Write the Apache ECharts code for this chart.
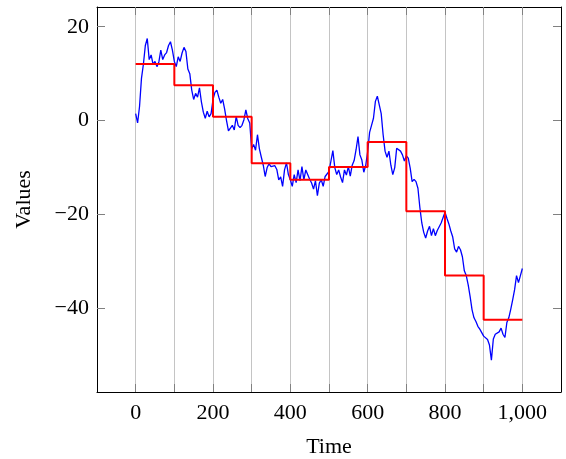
<!DOCTYPE html>
<html>
<head>
<meta charset="utf-8">
<title>Values over time</title>
<script src="https://cdn.jsdelivr.net/npm/echarts@6/dist/echarts.min.js"></script>
<style>
    html, body { margin: 0; padding: 0; background: #fff; }
    #myChart { width: 566px; height: 459px; }
</style>
</head>
<body>
<div id="myChart"></div>
<script>
// random walk, one reading every 5 steps (t = 0, 5, ..., 1000)
var sampleStep = 5;
var walkValues = [
    1.5, -0.5, 3, 9, 12, 16, 17.5, 13, 14, 12,
    12.6, 11.5, 12.5, 15, 13, 14, 14.5, 16, 16.8, 15,
    12.6, 11.5, 13.6, 12.6, 14.4, 15.6, 14.7, 11, 10, 6.5,
    4.5, 5.8, 5, 7, 4, 1.8, 0.5, 2, 0.8, 1.5,
    4.5, 6, 6.5, 5, 3.7, 4.5, 2.5, 0, -2.2, -1.8,
    -1, -2, 0.9, -1, -1.5, -1, 0.2, 2.3, 0.4, -0.5,
    -6, -5.1, -6.3, -3, -6, -7.8, -9.5, -11.9, -10, -9.2,
    -9.8, -9.6, -9.6, -10.4, -12.6, -12, -14, -10.5, -9, -11.5,
    -12.6, -14, -11.5, -13.2, -10.5, -12.8, -9.8, -12.6, -10.5, -10.8,
    -12.5, -13.3, -14.6, -12.8, -16, -13.3, -12.6, -14, -11.9, -11.5,
    -10.8, -8.6, -6.4, -10, -11.5, -10.5, -12, -13.2, -10.5, -11.6,
    -9.8, -11.8, -9.5, -8.5, -6.2, -3.4, -7.3, -8.4, -11, -9.5,
    -6.6, -2.5, -1, 0.5, 4.1, 5.2, 5, 1.5, -3, -6.5,
    -7.8, -6.5, -9.5, -11.5, -10, -5.9, -5.5, -6.5, -7.3, -8.6,
    -7.5, -8, -10.1, -13, -12.5, -13, -14.4, -18.5, -21.8, -23.8,
    -25, -23.5, -22.5, -24.5, -23, -24.5, -23.4, -22.6, -21.8, -22.2,
    -19.5, -20.8, -22, -23.5, -24.8, -27.3, -28, -26.8, -27.5, -29,
    -32, -33, -35, -37.5, -40.3, -42, -42.8, -43.8, -44.4, -44.5,
    -45.9, -46, -46.6, -47.8, -51, -46.5, -45.5, -45.8, -45, -44.2,
    -45.5, -46.2, -43, -42, -40.2, -38.2, -36, -33, -34.5, -33,
    -31.5
];
// mean of every block of 100 steps (red step line)
var blockStarts = [0, 100, 200, 300, 400, 500, 600, 700, 800, 900];
var blockMeans = [12.06, 7.55, 0.8, -9.1, -12.6, -9.9, -4.55, -19.3, -33.0, -42.4];
var blockEnd = 1000;

var xTicks = [0, 100, 200, 300, 400, 500, 600, 700, 800, 900, 1000];
var xTickLabels = [0, 200, 400, 600, 800, 1000];
var yTicks = [-40, -20, 0, 20];

var serif = 'Liberation Serif';

var walkData = walkValues.map(function (v, i) {
    return [i * sampleStep, v];
});
var stepData = blockStarts.map(function (s, i) {
    return [s, blockMeans[i]];
});
stepData.push([blockEnd, blockMeans[blockMeans.length - 1]]);

function fmtX(v) {
    return v >= 1000 ? Math.floor(v / 1000) + ',' + ('00' + (v % 1000)).slice(-3) : String(v);
}
function fmtY(v) {
    return v < 0 ? '\u2212' + Math.abs(v) : String(v);
}

var labelStyle = { fontFamily: serif, fontSize: 22, color: '#000' };

var option = {
    animation: false,
    backgroundColor: '#fff',
    textStyle: { fontFamily: serif },
    // keep the plot box fixed, labels are placed by hand
    grid: { left: 97, right: 5, top: 7, bottom: 67, outerBoundsMode: 'none' },
    xAxis: [
        {
            type: 'value',
            position: 'bottom',
            min: -100,
            max: 1100,
            interval: 100,
            axisLine: { show: true, onZero: false, lineStyle: { color: '#000', width: 1 } },
            axisTick: { show: true, inside: true, length: 8, customValues: xTicks, lineStyle: { color: '#808080' } },
            axisLabel: Object.assign({ customValues: xTickLabels, formatter: fmtX, margin: 10 }, labelStyle),
            splitLine: { show: true, lineStyle: { color: '#c4c4c4', width: 1 } },
            name: 'Time',
            nameLocation: 'middle',
            nameGap: 44,
            nameTextStyle: labelStyle
        },
        {
            type: 'value',
            position: 'top',
            min: -100,
            max: 1100,
            axisLine: { show: true, onZero: false, lineStyle: { color: '#000', width: 1 } },
            axisTick: { show: true, inside: true, length: 8, customValues: xTicks, lineStyle: { color: '#808080' } },
            axisLabel: { show: false },
            splitLine: { show: false }
        }
    ],
    yAxis: [
        {
            type: 'value',
            position: 'left',
            min: -57.8,
            max: 24.2,
            axisLine: { show: true, onZero: false, lineStyle: { color: '#000', width: 1 } },
            axisTick: { show: true, inside: true, length: 8, customValues: yTicks, lineStyle: { color: '#808080' } },
            axisLabel: Object.assign({ customValues: yTicks, formatter: fmtY, margin: 8 }, labelStyle),
            splitLine: { show: false },
            name: 'Values',
            nameLocation: 'middle',
            nameGap: 62,
            nameRotate: 90,
            nameTextStyle: labelStyle
        },
        {
            type: 'value',
            position: 'right',
            min: -57.8,
            max: 24.2,
            axisLine: { show: true, onZero: false, lineStyle: { color: '#000', width: 1 } },
            axisTick: { show: true, inside: true, length: 8, customValues: yTicks, lineStyle: { color: '#808080' } },
            axisLabel: { show: false },
            splitLine: { show: false }
        }
    ],
    series: [
        {
            name: 'walk',
            type: 'line',
            xAxisIndex: 0,
            yAxisIndex: 0,
            data: walkData,
            showSymbol: false,
            itemStyle: { color: '#0000ff' },
            lineStyle: { color: '#0000ff', width: 1.3 }
        },
        {
            name: 'block mean',
            type: 'line',
            xAxisIndex: 0,
            yAxisIndex: 0,
            step: 'end',
            data: stepData,
            showSymbol: false,
            itemStyle: { color: '#ff0000' },
            lineStyle: { color: '#ff0000', width: 2 }
        }
    ]
};

var myChart = echarts.init(document.getElementById('myChart'));
myChart.setOption(option);
</script>
</body>
</html>
